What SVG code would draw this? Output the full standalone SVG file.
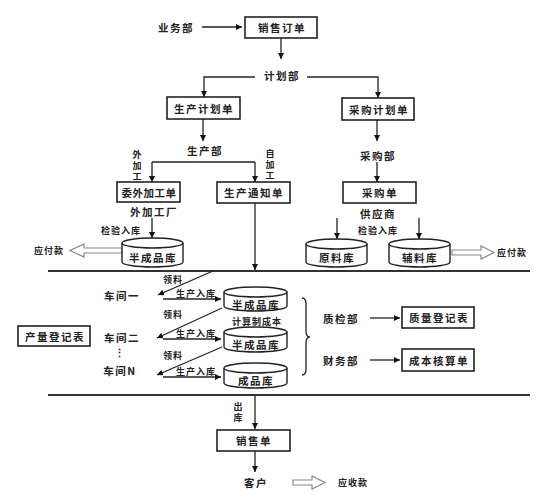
<svg xmlns="http://www.w3.org/2000/svg" width="540" height="498" viewBox="0 0 540 498">
<defs>
<marker id="ah" viewBox="0 0 10 10" refX="10" refY="5" markerWidth="6" markerHeight="6" orient="auto" markerUnits="userSpaceOnUse"><path d="M0,0 L10,5 L0,10 z" fill="#111"/></marker>
<style>
.t{font-family:"Noto Sans CJK SC","Noto Sans",sans-serif;font-size:10.5px;font-weight:700;fill:#222;letter-spacing:1.5px;text-anchor:middle;dominant-baseline:central}
.s{font-size:9px;letter-spacing:1px}
.v{font-family:"Noto Sans CJK SC","Noto Sans",sans-serif;font-size:9px;font-weight:700;fill:#222;letter-spacing:2px;writing-mode:vertical-rl;text-anchor:start}
.box{fill:#fff;stroke:#222;stroke-width:1.6}
.ln{fill:none;stroke:#222;stroke-width:1.3}
.ar{fill:none;stroke:#222;stroke-width:1.3;marker-end:url(#ah)}
.cyl{fill:#fff;stroke:#222;stroke-width:1.4}
.hol{fill:#fff;stroke:#888;stroke-width:1.2}
.sep{stroke:#333;stroke-width:2.2}
</style>
</defs>
<rect width="540" height="498" fill="#fff"/>

<g id="connectors">
<line class="ar" x1="202" y1="27" x2="242" y2="27"/>
<line class="ar" x1="281" y1="38" x2="281" y2="59"/>
<polyline class="ar" points="255,77 204,77 204,97"/>
<polyline class="ar" points="307,77 378,77 378,98"/>
<line class="ar" x1="203" y1="119" x2="203" y2="141"/>
<polyline class="ln" points="152,162 255,162"/>
<line class="ar" x1="152" y1="162" x2="152" y2="182"/>
<line class="ar" x1="255" y1="162" x2="255" y2="182"/>
<line class="ar" x1="377" y1="120" x2="377" y2="141"/>
<line class="ar" x1="377" y1="162" x2="377" y2="182"/>
<line class="ar" x1="152" y1="218" x2="152" y2="238"/>
<line class="ar" x1="337" y1="218" x2="337" y2="239"/>
<line class="ar" x1="419" y1="218" x2="419" y2="239"/>
<line class="ar" x1="255" y1="203" x2="255" y2="270"/>
<line class="sep" x1="48" y1="271" x2="530" y2="271"/>
<line class="sep" x1="48" y1="395" x2="530" y2="395"/>
<line class="ar" x1="213" y1="271" x2="158" y2="295"/>
<line class="ar" x1="222" y1="308" x2="157" y2="338"/>
<line class="ar" x1="222" y1="347" x2="157" y2="375"/>
<line class="ar" x1="163" y1="299" x2="221" y2="299"/>
<line class="ar" x1="163" y1="339" x2="221" y2="339"/>
<line class="ar" x1="163" y1="377" x2="221" y2="377"/>
<line class="ar" x1="370" y1="318" x2="400" y2="318"/>
<line class="ar" x1="370" y1="360" x2="400" y2="360"/>
<line class="ar" x1="255" y1="395" x2="255" y2="429"/>
<line class="ar" x1="255" y1="451" x2="255" y2="472"/>
<path class="ln" d="M302,298 Q306,298 306,304 L306,331 Q306,337 310,337 Q306,337 306,343 L306,369 Q306,375 302,375"/>
<polygon class="hol" points="122,248 84,248 84,244 70,250.5 84,257 84,253 122,253"/>
<polygon class="hol" points="452,250 481,250 481,246 494,252.5 481,259 481,255 452,255"/>
<polygon class="hol" points="293,480 312,480 312,476 325,482.5 312,489 312,485 293,485"/>
</g>

<g id="labels">
<text class="t" x="176" y="27">业务部</text>
<text class="t" x="282" y="75">计划部</text>
<text class="t" x="205" y="150">生产部</text>
<text class="t" x="378" y="155">采购部</text>
<text class="v" x="137" y="150">外加工</text>
<text class="v" x="270" y="149">自加工</text>
<text class="t" x="154" y="211">外加工厂</text>
<text class="t s" x="121" y="230">检验入库</text>
<text class="t" x="378" y="213">供应商</text>
<text class="t s" x="378" y="230">检验入库</text>
<text class="t s" x="49" y="250">应付款</text>
<text class="t s" x="512" y="252">应付款</text>
<text class="t s" x="173" y="279">领料</text>
<text class="t s" x="173" y="314">领料</text>
<text class="t s" x="173" y="355">领料</text>
<text class="t s" x="196" y="293">生产入库</text>
<text class="t s" x="196" y="333">生产入库</text>
<text class="t s" x="196" y="371">生产入库</text>
<text class="t s" x="257" y="321">计算制成本</text>
<text class="t" x="122" y="295">车间一</text>
<text class="t" x="122" y="337">车间二</text>
<text class="t" x="119" y="352" style="letter-spacing:0">⋮</text>
<text class="t" x="120" y="370">车间N</text>
<text class="t" x="341" y="318">质检部</text>
<text class="t" x="341" y="360">财务部</text>
<text class="v" x="238" y="402">出库</text>
<text class="t" x="256" y="482">客户</text>
<text class="t s" x="353" y="482">应收款</text>
</g>

<g id="n-xsdd"><rect class="box" x="245" y="17" width="72" height="21"/><text class="t" x="282" y="27.5">销售订单</text></g>
<g id="n-scjhd"><rect class="box" x="167" y="97" width="73" height="22"/><text class="t" x="204" y="108">生产计划单</text></g>
<g id="n-cgjhd"><rect class="box" x="342" y="98" width="72" height="22"/><text class="t" x="379" y="109">采购计划单</text></g>
<g id="n-wwjgd"><rect class="box" x="117" y="182" width="63" height="20"/><text class="t" x="149" y="192" style="letter-spacing:0.5px">委外加工单</text></g>
<g id="n-sctzd"><rect class="box" x="217" y="182" width="73" height="21"/><text class="t" x="254" y="192.5">生产通知单</text></g>
<g id="n-cgd"><rect class="box" x="343" y="182" width="73" height="21"/><text class="t" x="380" y="192.5">采购单</text></g>

<g id="n-bcpk0"><path class="cyl" d="M122,243 L122,262 A30.5,5 0 0 0 183,262 L183,243"/><ellipse class="cyl" cx="152.5" cy="243" rx="30.5" ry="5"/><text class="t" x="153" y="257">半成品库</text></g>
<g id="n-ylk"><path class="cyl" d="M306,244 L306,262 A30.5,5 0 0 0 367,262 L367,244"/><ellipse class="cyl" cx="336.5" cy="244" rx="30.5" ry="5"/><text class="t" x="337" y="257">原料库</text></g>
<g id="n-flk"><path class="cyl" d="M389,244 L389,262 A30.5,5 0 0 0 450,262 L450,244"/><ellipse class="cyl" cx="419.5" cy="244" rx="30.5" ry="5"/><text class="t" x="420" y="257">辅料库</text></g>

<g id="n-bcpk1"><path class="cyl" d="M224,292 L224,306 A31.5,5 0 0 0 287,306 L287,292"/><ellipse class="cyl" cx="255.5" cy="292" rx="31.5" ry="5"/><text class="t" x="256" y="304">半成品库</text></g>
<g id="n-bcpk2"><path class="cyl" d="M224,332 L224,347 A31.5,5 0 0 0 287,347 L287,332"/><ellipse class="cyl" cx="255.5" cy="332" rx="31.5" ry="5"/><text class="t" x="256" y="344">半成品库</text></g>
<g id="n-cpk"><path class="cyl" d="M224,368 L224,383 A31.5,5 0 0 0 287,383 L287,368"/><ellipse class="cyl" cx="255.5" cy="368" rx="31.5" ry="5"/><text class="t" x="256" y="380">成品库</text></g>

<g id="n-cldjb"><rect class="box" x="18" y="326" width="72" height="20"/><text class="t" x="55" y="336">产量登记表</text></g>
<g id="n-zldjb"><rect class="box" x="402" y="307" width="72" height="21"/><text class="t" x="439" y="317.5">质量登记表</text></g>
<g id="n-cbhsd"><rect class="box" x="402" y="349" width="72" height="22"/><text class="t" x="439" y="360">成本核算单</text></g>
<g id="n-xsd"><rect class="box" x="217" y="430" width="73" height="21"/><text class="t" x="254" y="440.5">销售单</text></g>
</svg>
